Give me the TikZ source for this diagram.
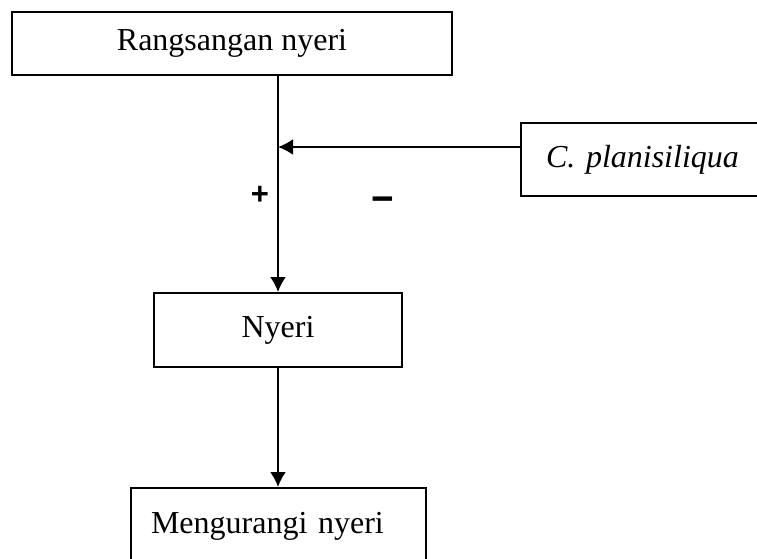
\documentclass[tikz,border=0pt]{standalone}
\usepackage{fontspec}
\setmainfont{Liberation Serif}
\newfontfamily\signfont{Liberation Sans}
\usepackage{tikz}
\usetikzlibrary{arrows.meta}
\frenchspacing

\begin{document}
\begin{tikzpicture}[x=1pt,y=-1pt,line width=2pt,
box/.style={draw,rectangle,inner sep=0pt,font=\fontsize{32}{38}\selectfont},
link/.style={-{Latex[length=15pt,width=16pt]}},
sign/.style={inner sep=0pt,font=\signfont\bfseries\fontsize{31}{36}\selectfont}]
\clip (0,0) rectangle (757,558);
\node[box,minimum width=440pt,minimum height=63pt] (stim) at (232,43.5) {Rangsangan nyeri};
\node[box,minimum width=248pt,minimum height=74pt] (pain) at (278,330) {Nyeri};
\node[box,anchor=north west,minimum width=295pt,text width=255pt,inner xsep=20pt,align=left,text height=45pt,text depth=75pt] (relief) at (130,487) {Mengurangi nyeri};
\node[box,anchor=west,minimum height=73pt,text width=215pt,inner xsep=25pt,align=left] (plant) at (520,159.5) {\itshape C. planisiliqua};
\coordinate (hit) at (278,147);
\node[sign] (plus) at (260,195) {+};
\node[sign,xscale=1.25,yscale=1.3] (minus) at (383,205) {\textminus};
\draw (pain.north |- stim.south) -- (hit);
\draw[link] (hit) -- (pain.north);
\draw[link] (plant.west |- hit) -- (hit);
\draw[link] (pain.south) -- (pain.south |- relief.north);
\end{tikzpicture}
\end{document}
